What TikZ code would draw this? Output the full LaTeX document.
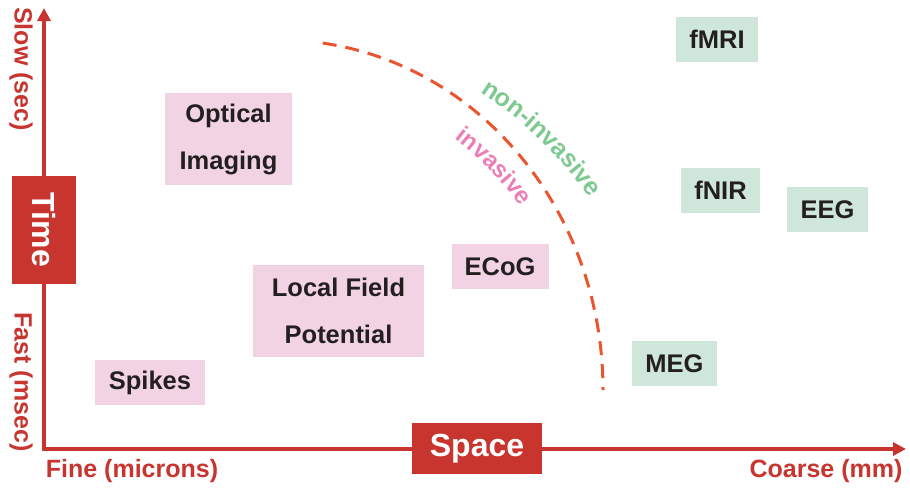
\documentclass[tikz,border=0pt]{standalone}
\usepackage{fontspec}
\setmainfont{Liberation Sans}
\usetikzlibrary{arrows.meta,decorations.text}
\definecolor{axisred}{HTML}{C8342E}
\definecolor{pinkbox}{HTML}{F2D3E4}
\definecolor{greenbox}{HTML}{CFE7DA}
\definecolor{dashorange}{HTML}{E9552F}
\definecolor{labgreen}{HTML}{7DC98F}
\definecolor{labpink}{HTML}{EB7FB5}
\definecolor{boxtext}{HTML}{231F20}
\tikzstyle{axis} = [draw=axisred, line width=4pt, line cap=rect,
    -{Triangle[length=13pt,width=13pt]}]
\tikzstyle{axislabel} = [text=axisred, font=\bfseries\fontsize{25}{25}\selectfont,
    inner sep=0pt]
\tikzstyle{axisbox} = [fill=axisred, text=white, font=\bfseries\fontsize{32}{32}\selectfont,
    inner sep=0pt]
\tikzstyle{inv} = [fill=pinkbox, text=boxtext, font=\bfseries\fontsize{25.5}{47}\selectfont,
    align=center, inner sep=0pt, minimum height=45pt]
\tikzstyle{noninv} = [inv, fill=greenbox]

\begin{document}
\begin{tikzpicture}[x=1pt,y=-1pt]
\useasboundingbox (0,0) rectangle (910,488);
 \coordinate (O) at (44,449);
 \coordinate (T) at (44,8);
 \coordinate (S) at (906,449);
\coordinate (arcc) at (280,390);
\coordinate (nonc) at (262,427.6);
\coordinate (invc) at (274.3,378.5);

\draw[axis] (O) -- (T);
\draw[axis] (O) -- (S);

\draw[dashorange, line width=3pt, dash pattern=on 14pt off 9pt]
  ([shift={(-82.4:323 and 350)}]arcc) arc[start angle=-82.4, end angle=0, x radius=323, y radius=350];

\path[decorate, decoration={text along path, text align=center, text color=labgreen,
  text={|\bfseries\fontsize{25}{25}\selectfont|non-invasive}}]
  ([shift={(-60:400)}]nonc) arc[start angle=-60, end angle=-32, radius=400];
\path[decorate, decoration={text along path, text align=center, text color=labpink,
  text={|\bfseries\fontsize{24}{24}\selectfont|invasive}}]
  ([shift={(-57:300)}]invc) arc[start angle=-57, end angle=-31, radius=300];

\node[axisbox, name=timebox, rotate=-90, minimum width=108pt, minimum height=64pt] at (44,230) {Time};
\node[axisbox, name=spacebox, minimum width=130pt, minimum height=51pt] at (477,448.5) {Space};

\node[axislabel, name=slow, rotate=-90] at (21,69) {Slow (sec)};
\node[axislabel, name=fast, rotate=-90] at (21,382) {Fast (msec)};
\node[axislabel, name=fine] at (132,471) {Fine (microns)};
\node[axislabel, name=coarse] at (826,471) {Coarse (mm)};

\node[inv, name=optical, minimum width=127pt, minimum height=92pt] at (228.5,139) {Optical\\Imaging};
\node[inv, name=lfp, minimum width=171pt, minimum height=92pt] at (338.5,311) {Local Field\\Potential};
\node[inv, name=ecog, minimum width=97pt] at (500,266.5) {ECoG};
\node[inv, name=spikes, minimum width=110pt] at (150,382.5) {Spikes};

\node[noninv, name=fmri, minimum width=82pt] at (717,39.5) {fMRI};
\node[noninv, name=fnir, minimum width=79pt] at (720.5,190.5) {fNIR};
\node[noninv, name=eeg, minimum width=81pt] at (827.5,209.5) {EEG};
\node[noninv, name=meg, minimum width=85pt] at (674.5,363.5) {MEG};

\end{tikzpicture}
\end{document}
